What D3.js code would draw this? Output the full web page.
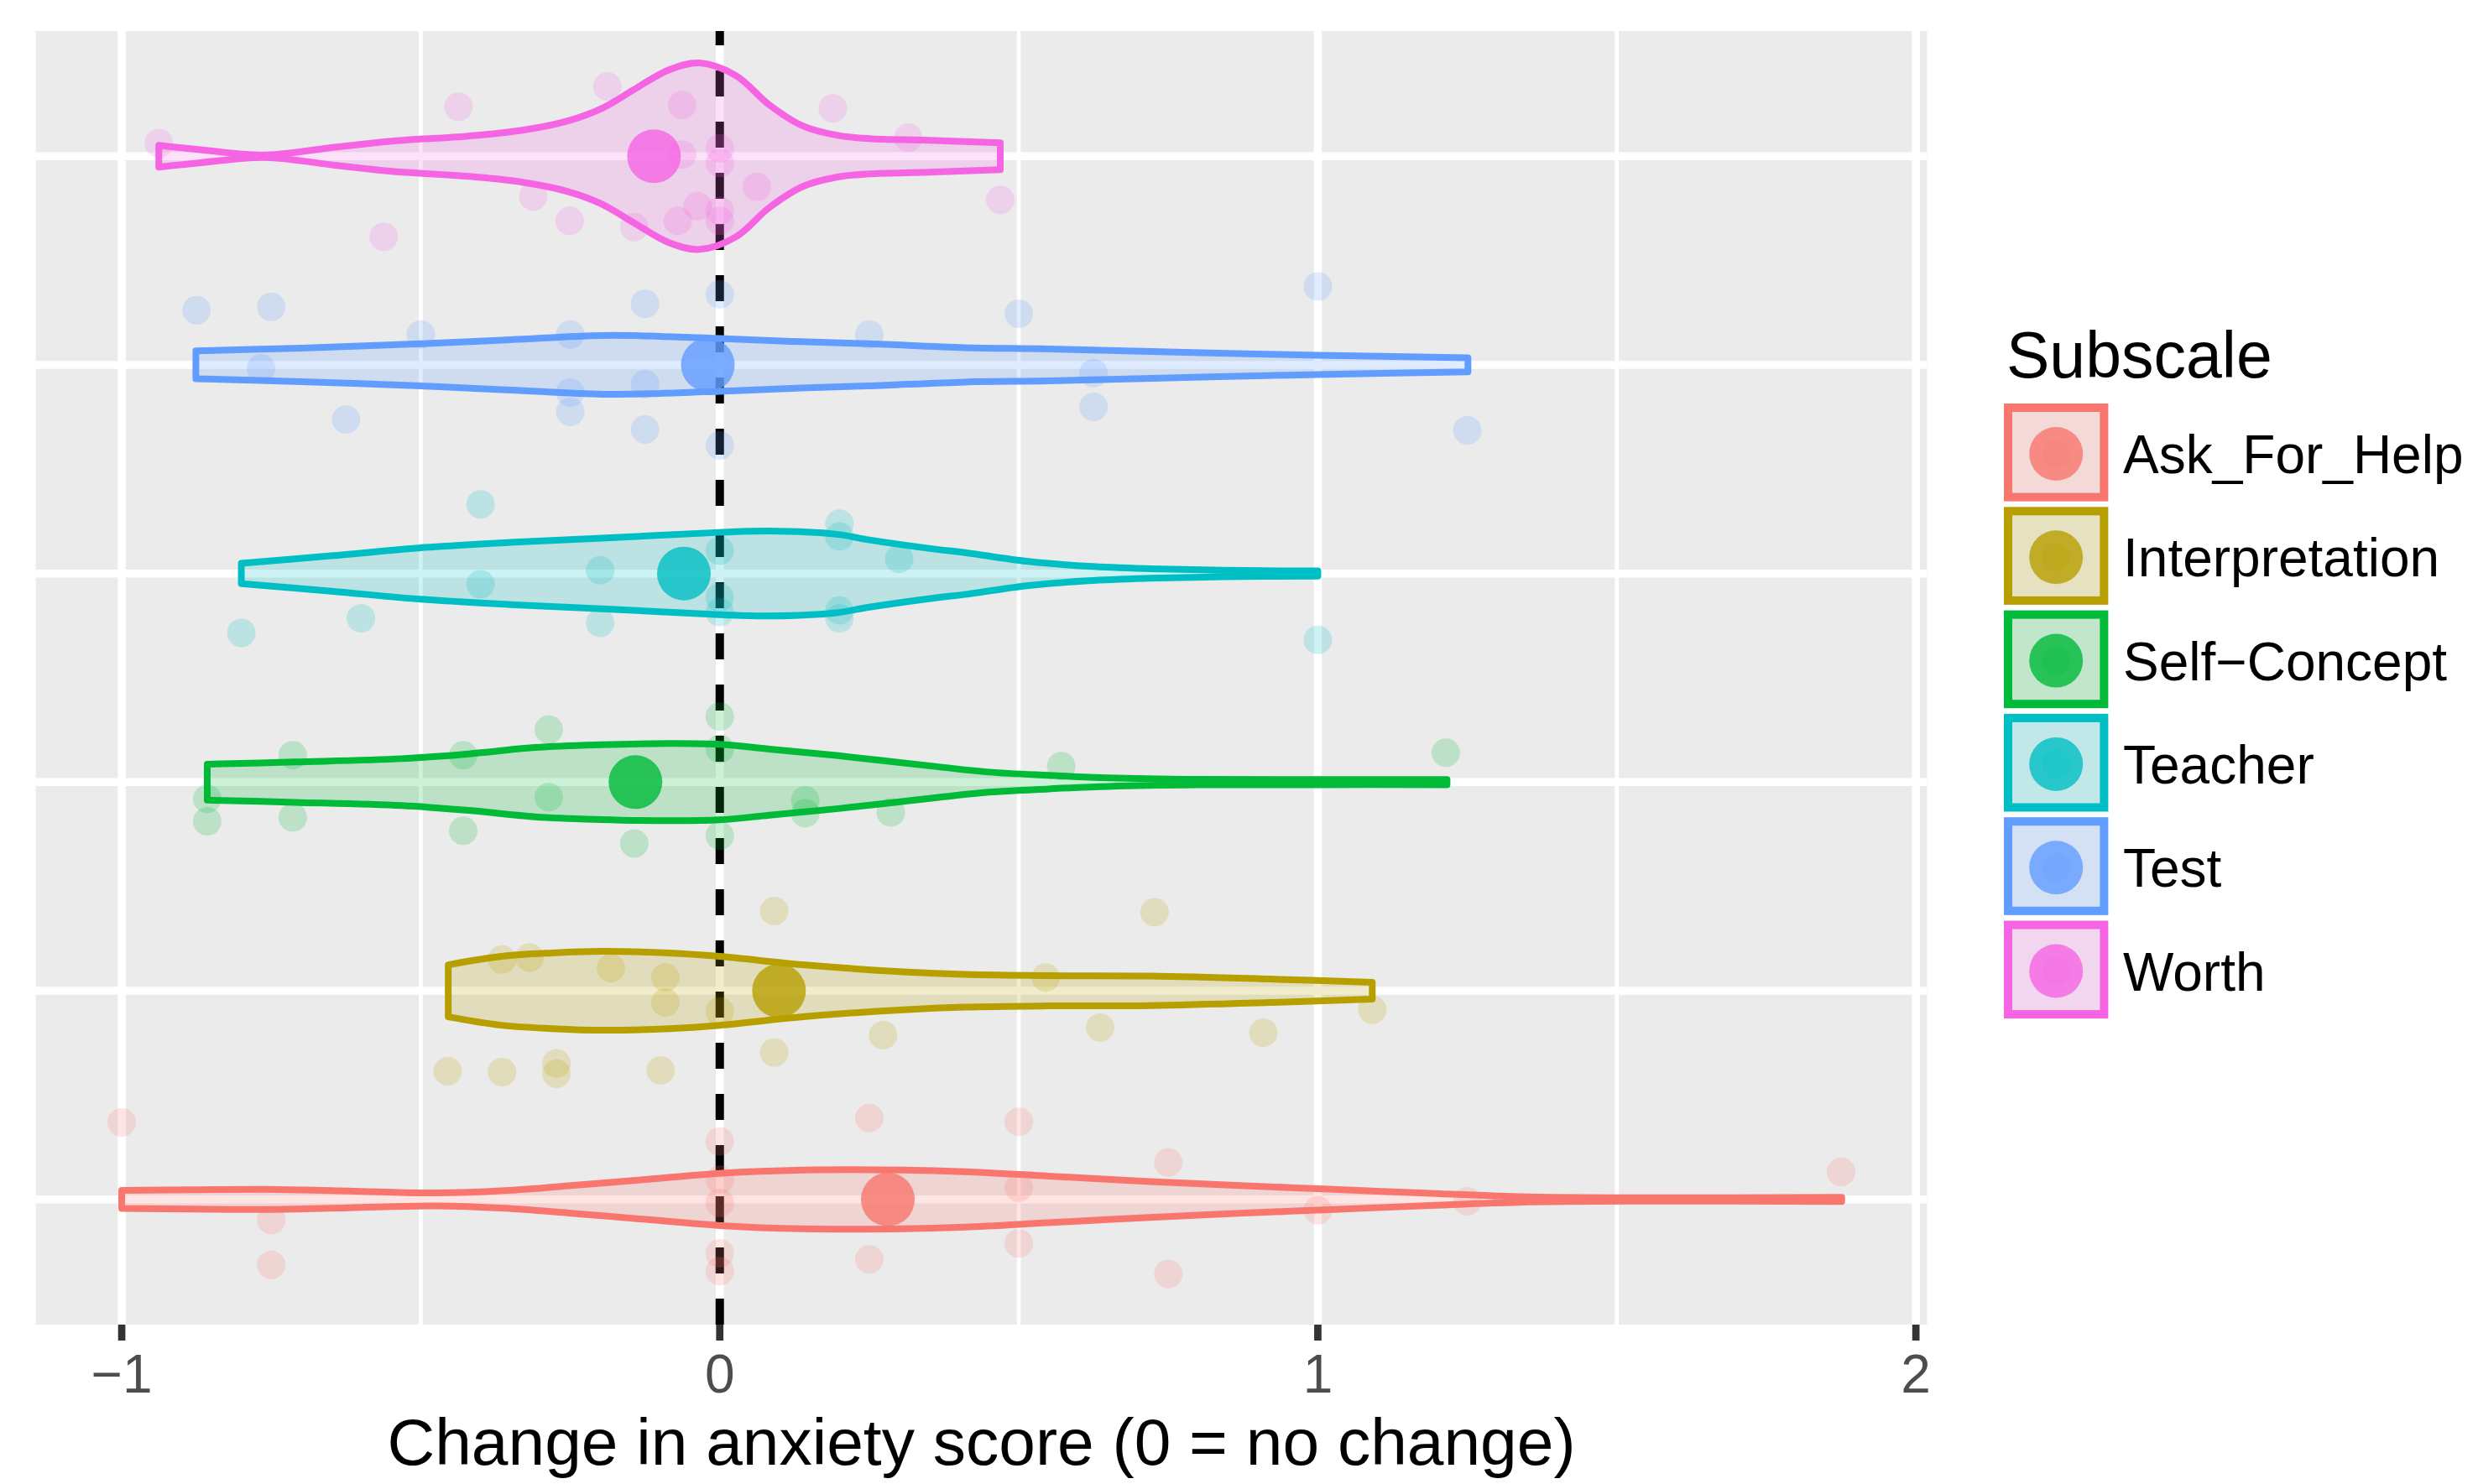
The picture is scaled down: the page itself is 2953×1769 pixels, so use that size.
<!DOCTYPE html>
<html>
<head>
<meta charset="utf-8">
<script src="https://cdn.jsdelivr.net/npm/d3@7"></script>
<style>
body { margin: 0; background: #ffffff; }
svg text { font-family: "Liberation Sans", Arial, sans-serif; }
</style>
</head>
<body>
<div id="chartdiv"></div>
<script>
/*global d3 */

////////////////////////////////////////
// data
////////////////////////////////////////

var subscales = ["Ask_For_Help", "Interpretation", "Self\u2212Concept",
                 "Teacher", "Test", "Worth"];
var colors = ["#F8766D", "#B79F00", "#00BA38", "#00BFC4", "#619CFF", "#F564E3"];
var xTicks = [-1, 0, 1, 2];
var xMinorTicks = [-0.5, 0.5, 1.5];
var xTickLabels = ["\u22121", "0", "1", "2"];
var meanChange = [0.281, 0.099, -0.141, -0.060, -0.020, -0.110];

// violin outlines: [change, relative density]
var violinAsk = [[-1.0, 0.096], [-0.88, 0.103], [-0.756, 0.107], [-0.62, 0.089],
    [-0.476, 0.069], [-0.36, 0.094], [-0.253, 0.145], [-0.12, 0.215], [0, 0.278],
    [0.139, 0.313], [0.307, 0.313], [0.41, 0.295], [0.55, 0.248], [0.719, 0.191],
    [0.87, 0.148], [1.027, 0.107], [1.18, 0.067], [1.336, 0.030], [1.54, 0.018],
    [1.876, 0.022]];
var violinInterp = [[-0.454, 0.277], [-0.365, 0.367], [-0.28, 0.403], [-0.197, 0.420],
    [-0.085, 0.403], [0, 0.367], [0.139, 0.277], [0.307, 0.202], [0.41, 0.174],
    [0.55, 0.161], [0.72, 0.157], [0.92, 0.125], [1.091, 0.089]];
var violinSelf = [[-0.857, 0.191], [-0.711, 0.215], [-0.532, 0.250], [-0.42, 0.301],
    [-0.309, 0.369], [-0.2, 0.398], [-0.085, 0.411], [0, 0.402], [0.083, 0.352],
    [0.195, 0.284], [0.363, 0.165], [0.45, 0.107], [0.55, 0.072], [0.65, 0.045],
    [0.8, 0.029], [1.0, 0.027], [1.216, 0.027]];
var violinTeacher = [[-0.80, 0.109], [-0.65, 0.188], [-0.5, 0.274], [-0.35, 0.331],
    [-0.197, 0.376], [0, 0.438], [0.083, 0.452], [0.195, 0.418], [0.25, 0.358],
    [0.363, 0.257], [0.41, 0.223], [0.513, 0.130], [0.616, 0.077], [0.719, 0.051],
    [0.843, 0.034], [1.0, 0.027]];
var violinTest = [[-0.876, 0.148], [-0.7, 0.179], [-0.5, 0.224], [-0.35, 0.268],
    [-0.197, 0.313], [-0.1, 0.304], [0, 0.281], [0.12, 0.250], [0.25, 0.224],
    [0.41, 0.183], [0.55, 0.170], [0.82, 0.127], [1.0, 0.103], [1.251, 0.075]];
var violinWorth = [[-0.938, 0.116], [-0.868, 0.069], [-0.76, 0.013], [-0.644, 0.096],
    [-0.577, 0.143], [-0.53, 0.170], [-0.42, 0.215], [-0.33, 0.277], [-0.254, 0.376],
    [-0.197, 0.510], [-0.142, 0.716], [-0.085, 0.921], [-0.034, 0.993], [0.027, 0.859],
    [0.083, 0.546], [0.139, 0.322], [0.195, 0.224], [0.25, 0.188], [0.35, 0.170],
    [0.469, 0.143]];

// individual scores: [change, vertical jitter in category steps]
var pointsAsk = [[-1.0, -0.369], [-0.75, 0.099], [-0.75, 0.314], [0, -0.278],
    [0, -0.095], [0, 0.017], [0, 0.258], [0, 0.344], [0.25, -0.390], [0.25, 0.287],
    [0.5, -0.372], [0.5, -0.056], [0.5, 0.211], [0.75, -0.177], [0.75, 0.357],
    [1.0, 0.052], [1.25, 0.009], [1.875, -0.132]];
var pointsInterp = [[0.091, -0.382], [0.727, -0.376], [-0.364, -0.150],
    [-0.318, -0.159], [-0.182, -0.109], [-0.091, -0.064], [-0.091, 0.056], [0, 0.099],
    [0.091, 0.296], [0.273, 0.213], [-0.455, 0.386], [-0.364, 0.390], [-0.273, 0.348],
    [-0.273, 0.398], [-0.099, 0.382], [0.545, -0.064], [0.636, 0.176], [0.909, 0.201],
    [1.091, 0.090]];
var pointsSelf = [[-0.857, 0.080], [-0.857, 0.188], [-0.714, -0.129], [-0.714, 0.169],
    [-0.429, -0.129], [-0.429, 0.233], [-0.286, -0.252], [-0.286, 0.072],
    [-0.143, 0.294], [0, -0.314], [0, -0.159], [0, 0.257], [0.143, 0.087],
    [0.143, 0.149], [0.286, 0.145], [0.571, -0.077], [1.214, -0.141]];
var pointsTeacher = [[-0.4, -0.331], [-0.4, 0.052], [-0.6, 0.215], [-0.8, 0.285],
    [-0.2, -0.016], [-0.2, 0.237], [0, -0.109], [0, 0.115], [0, 0.185], [0.2, -0.239],
    [0.2, -0.177], [0.2, 0.177], [0.2, 0.215], [0.3, -0.070], [1.0, 0.318]];
var pointsTest = [[-0.875, -0.262], [-0.75, -0.278], [-0.5, -0.145], [-0.25, -0.145],
    [-0.125, -0.292], [0, -0.338], [-0.767, 0.016], [-0.25, 0.133], [-0.125, 0.093],
    [-0.625, 0.262], [-0.25, 0.225], [-0.125, 0.310], [0, 0.386], [0.25, -0.145],
    [0.5, -0.245], [1.0, -0.376], [0.625, 0.040], [0.625, 0.201], [1.25, 0.314]];
var pointsWorth = [[-0.938, -0.062], [-0.437, -0.237], [-0.188, -0.334],
    [-0.063, -0.245], [0, -0.038], [0, 0.032], [-0.063, -0.008], [0.189, -0.229],
    [0.315, -0.089], [0.469, 0.209], [-0.312, 0.193], [-0.251, 0.310],
    [-0.562, 0.386], [-0.143, 0.340], [-0.070, 0.310], [-0.037, 0.239], [0, 0.262],
    [0, 0.310], [0.062, 0.147]];

var violins = [violinAsk, violinInterp, violinSelf, violinTeacher, violinTest, violinWorth];
var points = [pointsAsk, pointsInterp, pointsSelf, pointsTeacher, pointsTest, pointsWorth];


(function () {
    "use strict";

    ////////////////////////////////////////
    // layout
    ////////////////////////////////////////

    var lay = {width: 2953, height: 1769, left: 42.6, right: 2296.5,
               top: 37, bottom: 1579, panelfill: "#EBEBEB",
               majorw: 9.5, minorw: 4.75, violinw: 8,
               jitr: 17, meanr: 32},
        svg, x, y, hw, area, gv, leg;

    svg = d3.select("#chartdiv").append("svg")
        .attr("width", lay.width)
        .attr("height", lay.height);

    x = d3.scaleLinear()
        .domain([-1.14375, 2.01875])
        .range([lay.left, lay.right]);

    y = d3.scalePoint()
        .domain(subscales.slice().reverse())
        .range([lay.top, lay.bottom])
        .padding(0.6);

    // ggplot violin width 0.9 -> half width 0.45 of a category step
    hw = d3.scaleLinear().domain([0, 1]).range([0, 0.45 * y.step()]);


    ////////////////////////////////////////
    // panel and grid
    ////////////////////////////////////////

    svg.append("rect")
        .attr("x", lay.left).attr("y", lay.top)
        .attr("width", lay.right - lay.left)
        .attr("height", lay.bottom - lay.top)
        .attr("fill", lay.panelfill);

    svg.append("g").selectAll("line")
        .data(xMinorTicks)
        .join("line")
        .attr("x1", function (d) { return x(d); })
        .attr("x2", function (d) { return x(d); })
        .attr("y1", lay.top).attr("y2", lay.bottom)
        .attr("stroke", "#ffffff").attr("stroke-width", lay.minorw);

    svg.append("g").selectAll("line")
        .data(subscales)
        .join("line")
        .attr("x1", lay.left).attr("x2", lay.right)
        .attr("y1", function (d) { return y(d); })
        .attr("y2", function (d) { return y(d); })
        .attr("stroke", "#ffffff").attr("stroke-width", lay.majorw);

    svg.append("g").selectAll("line")
        .data(xTicks)
        .join("line")
        .attr("x1", function (d) { return x(d); })
        .attr("x2", function (d) { return x(d); })
        .attr("y1", lay.top).attr("y2", lay.bottom)
        .attr("stroke", "#ffffff").attr("stroke-width", lay.majorw);

    // reference line at no change, dashes start from the bottom like R
    svg.append("line")
        .attr("x1", x(0)).attr("x2", x(0))
        .attr("y1", lay.bottom).attr("y2", lay.top)
        .attr("stroke", "#000000").attr("stroke-width", 10)
        .attr("stroke-dasharray", "31,30");


    ////////////////////////////////////////
    // violins, scores, means
    ////////////////////////////////////////

    gv = svg.append("g");
    subscales.forEach(function (name, i) {
        var cy = y(name);
        area = d3.area()
            .x(function (d) { return x(d[0]); })
            .y0(function (d) { return cy - hw(d[1]); })
            .y1(function (d) { return cy + hw(d[1]); })
            .curve(d3.curveCatmullRom);
        gv.append("path")
            .datum(violins[i])
            .attr("d", area)
            .attr("fill", colors[i]).attr("fill-opacity", 0.2)
            .attr("stroke", colors[i]).attr("stroke-width", lay.violinw)
            .attr("stroke-linejoin", "round");
    });

    subscales.forEach(function (name, i) {
        var cy = y(name);
        gv.append("g").selectAll("circle")
            .data(points[i])
            .join("circle")
            .attr("cx", function (d) { return x(d[0]); })
            .attr("cy", function (d) { return cy + d[1] * y.step(); })
            .attr("r", lay.jitr)
            .attr("fill", colors[i]).attr("fill-opacity", 0.2);
    });

    gv.append("g").selectAll("circle")
        .data(meanChange)
        .join("circle")
        .attr("cx", function (d) { return x(d); })
        .attr("cy", function (d, i) { return y(subscales[i]); })
        .attr("r", lay.meanr)
        .attr("fill", function (d, i) { return colors[i]; })
        .attr("fill-opacity", 0.8);


    ////////////////////////////////////////
    // x axis
    ////////////////////////////////////////

    svg.append("g").selectAll("line")
        .data(xTicks)
        .join("line")
        .attr("x1", function (d) { return x(d); })
        .attr("x2", function (d) { return x(d); })
        .attr("y1", lay.bottom).attr("y2", lay.bottom + 19)
        .attr("stroke", "#333333").attr("stroke-width", 8.7);

    svg.append("g").selectAll("text")
        .data(xTicks)
        .join("text")
        .attr("x", function (d) { return x(d); })
        .attr("y", 1660)
        .attr("text-anchor", "middle")
        .attr("font-size", 64)
        .attr("fill", "#4D4D4D")
        .text(function (d, i) { return xTickLabels[i]; });

    svg.append("text")
        .attr("x", (lay.left + lay.right) / 2)
        .attr("y", 1746)
        .attr("text-anchor", "middle")
        .attr("font-size", 78.5)
        .attr("fill", "#000000")
        .text("Change in anxiety score (0 = no change)");


    ////////////////////////////////////////
    // legend
    ////////////////////////////////////////

    leg = svg.append("g").attr("transform", "translate(2388,481)");
    leg.append("text")
        .attr("x", 3).attr("y", -31)
        .attr("font-size", 77)
        .attr("fill", "#000000")
        .text("Subscale");

    subscales.forEach(function (name, i) {
        var k = leg.append("g")
            .attr("transform", "translate(0," + (i * 123.3) + ")");
        k.append("rect")
            .attr("x", 5).attr("y", 5).attr("width", 114.4).attr("height", 106.6)
            .attr("fill", "#F2F2F2");
        k.append("rect")
            .attr("x", 5).attr("y", 5).attr("width", 114.4).attr("height", 106.6)
            .attr("fill", colors[i]).attr("fill-opacity", 0.2)
            .attr("stroke", colors[i]).attr("stroke-width", 10);
        k.append("circle")
            .attr("cx", 62.2).attr("cy", 60).attr("r", lay.jitr)
            .attr("fill", colors[i]).attr("fill-opacity", 0.2);
        k.append("circle")
            .attr("cx", 62.2).attr("cy", 60).attr("r", lay.meanr)
            .attr("fill", colors[i]).attr("fill-opacity", 0.8);
        k.append("text")
            .attr("x", 142).attr("y", 60 + 23)
            .attr("font-size", 64)
            .attr("fill", "#000000")
            .text(name);
    });
}());
</script>
</body>
</html>
